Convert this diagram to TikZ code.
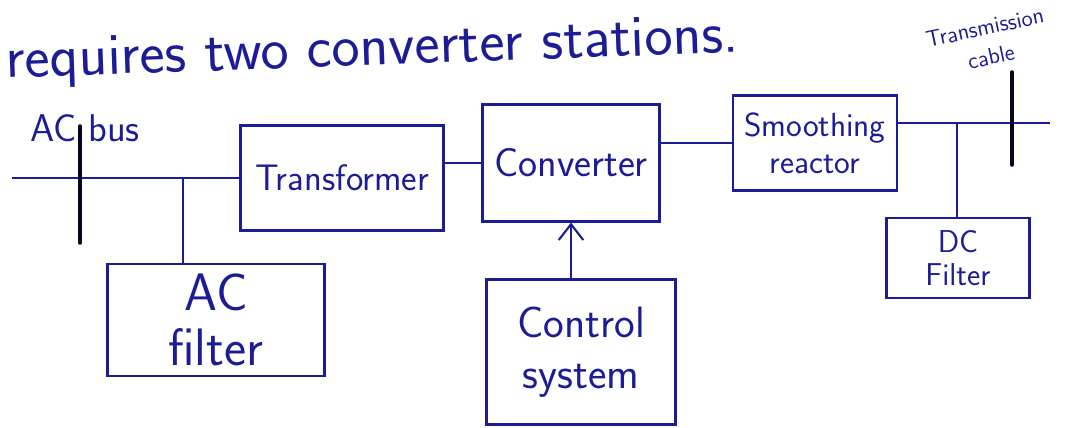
\documentclass[tikz,border=0pt]{standalone}
\usetikzlibrary{arrows.meta}
\definecolor{ink}{RGB}{28,28,150}
\begin{document}
\begin{tikzpicture}[x=0.02cm,y=-0.02cm,
	blok/.style={draw=ink,line width=1.2pt,text=ink,align=center,inner sep=2pt},
	wire/.style={ink,line width=1.2pt},
	bar/.style={black!75!ink,line width=2pt,line cap=round},
	lbl/.style={text=ink,align=center,inner sep=0pt},
	>={Straight Barb[length=9pt,width=14pt]}]
	\useasboundingbox (0,0) rectangle (1065,428);

	% Riga di testo in alto
	\node[lbl,anchor=base west,rotate=2,font=\sffamily\fontsize{34}{38}\selectfont] (title) at (6,78) {requires two converter stations.};

	% Blocchi
	\node[blok,minimum width=4.06cm,minimum height=2.1cm,font=\sffamily\fontsize{21}{24}\selectfont] (trafo) at (342,178) {Transformer};
	\node[blok,minimum width=3.54cm,minimum height=2.34cm,font=\sffamily\fontsize{23}{26}\selectfont] (conv) at (571,163) {Converter};
	\node[blok,minimum width=3.28cm,minimum height=1.9cm,font=\sffamily\fontsize{19}{21}\selectfont] (smooth) at (815,143) {Smoothing\\reactor};
	\node[blok,minimum width=4.34cm,minimum height=2.24cm,font=\sffamily\fontsize{30}{31}\selectfont] (acf) at (216,320) {AC\\filter};
	\node[blok,minimum width=3.78cm,minimum height=2.9cm,font=\sffamily\fontsize{25}{29}\selectfont] (ctrl) at (581,352) {Control\\system};
	\node[blok,minimum width=2.86cm,minimum height=1.6cm,font=\sffamily\fontsize{18}{19}\selectfont] (dcf) at (958,258) {DC\\Filter};

	% Punti delle linee
	\coordinate (busL) at (12,178);
	\coordinate (acjn) at (183,178);
	\coordinate (acbusT) at (80,126);
	\coordinate (acbusB) at (80,243);
	\coordinate (dcR) at (1050,123);
	\coordinate (dcjn) at (957,123);
	\coordinate (cabT) at (1012,72);
	\coordinate (cabB) at (1012,165);

	% Lato AC
	\draw[wire] (busL) -- (trafo.west);
	\draw[wire] (acjn) -- (acjn |- acf.north);
	\draw[bar] (acbusT) -- (acbusB);
	\node[lbl,font=\sffamily\fontsize{22}{24}\selectfont] (acbus) at (85,128) {AC bus};

	% Catena centrale
	\draw[wire] (trafo.east |- conv.west) -- (conv.west);
	\draw[wire] (conv.east |- smooth.west) -- (smooth.west);
	\draw[wire,->] (ctrl.north -| conv.south) -- (conv.south);

	% Lato DC
	\draw[wire] (smooth.east |- dcR) -- (dcR);
	\draw[wire] (dcjn) -- (dcjn |- dcf.north);
	\draw[bar] (cabT) -- (cabB);
	\node[lbl,rotate=12,font=\sffamily\fontsize{13}{17}\selectfont] (cable) at (988,42) {Transmission\\cable};

\end{tikzpicture}
\end{document}
